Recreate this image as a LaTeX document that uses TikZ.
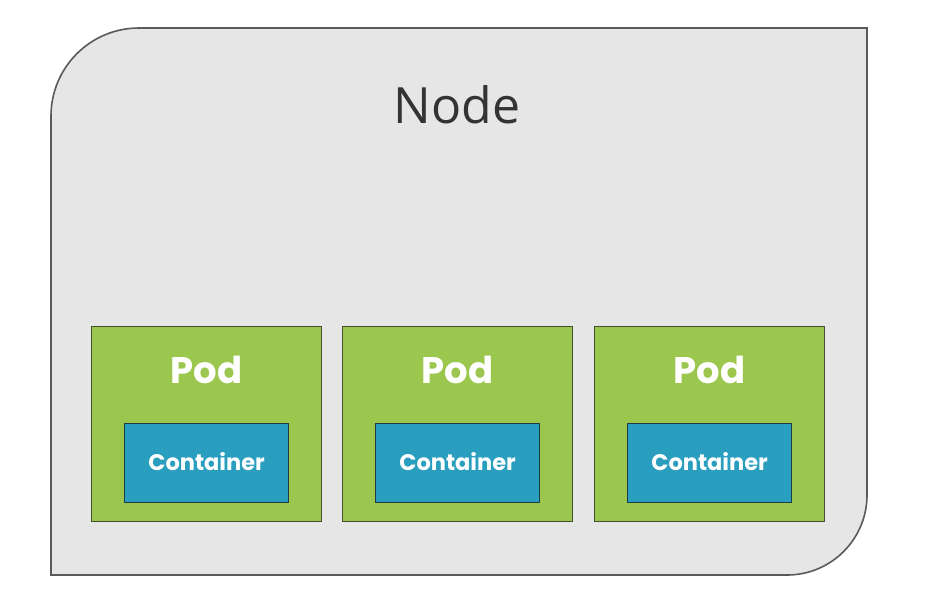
\documentclass[tikz,border=0pt]{standalone}
\usepackage{fontspec}
\usetikzlibrary{calc}
\setmainfont{Open Sans}
\newfontfamily\podfont{Poppins}[UprightFont=* SemiBold, BoldFont=* Bold]
\begin{document}
\begin{tikzpicture}[x=1pt,y=-1pt,
  hostbox/.style={fill=hostgray,draw=hostedge,line width=1.6pt},
  podbox/.style={draw=podedge,fill=podgreen,line width=1.2pt,minimum width=230pt,minimum height=195pt,inner sep=0pt,anchor=north west},
  ctrbox/.style={draw=ctredge,fill=ctrblue,line width=1.2pt,minimum width=164pt,minimum height=79pt,inner sep=0pt,anchor=north west},
  podlabel/.style={text=white,font=\podfont\bfseries\fontsize{37}{42}\selectfont,anchor=base},
  ctrlabel/.style={text=white,font=\podfont\bfseries\fontsize{22.5}{26}\selectfont,anchor=base},
  hostlabel/.style={text=hosttext,font=\fontsize{50}{56}\selectfont,anchor=base}]
\definecolor{hostgray}{HTML}{E6E6E6}
\definecolor{hostedge}{HTML}{5A5A5A}
\definecolor{hosttext}{HTML}{333333}
\definecolor{podgreen}{HTML}{9CC74F}
\definecolor{podedge}{HTML}{44502F}
\definecolor{ctrblue}{HTML}{2A9EBF}
\definecolor{ctredge}{HTML}{1F3B45}
\useasboundingbox (0,0) rectangle (933,611);
\fill[white] (0,0) rectangle (933,611);
% host outline: rounded top-left and bottom-right corners (y axis points down)
\draw[hostbox] (51,575) -- (51,116) arc[start angle=180,end angle=270,radius=88]
  -- (867,28) -- (867,495) arc[start angle=0,end angle=90,radius=80] -- cycle;
\node[hostlabel] (host) at (457,123) {Node};
% pods with their containers
\foreach \i/\px/\cx in {1/91/124, 2/342/375, 3/594/627}{
  \node[podbox] (pod\i) at (\px,326) {};
  \node[podlabel] (podlbl\i) at ($(pod\i.north)+(0,57)$) {Pod};
  \node[ctrbox] (ctr\i) at (\cx,423) {};
  \node[ctrlabel] (ctrlbl\i) at ($(ctr\i.center)+(0,7)$) {Container};
}
\end{tikzpicture}
\end{document}
